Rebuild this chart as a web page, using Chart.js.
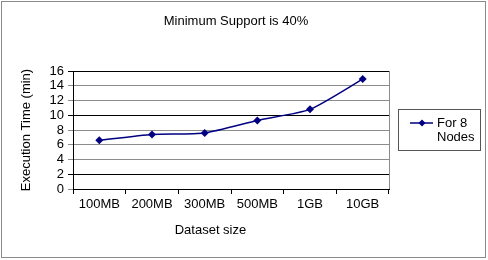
<!DOCTYPE html>
<html><head><meta charset="utf-8">
<script src="https://cdn.jsdelivr.net/npm/chart.js@4/dist/chart.umd.min.js"></script>
<style>html,body{margin:0;padding:0;background:#fff}#wrap{width:488px;height:260px}</style>
</head><body><div id="wrap"><canvas id="c" width="488" height="260"></canvas></div>
<script>
const categories = ["100MB","200MB","300MB","500MB","1GB","10GB"];
const execTime8Nodes = [6.6, 7.4, 7.6, 9.3, 10.8, 14.9];
const seriesLabel = ["For 8", "Nodes"];
const chartTitle = "Minimum Support is 40%";
const xTitle = "Dataset size";
const yTitle = "Execution Time (min)";
const yTicks = [0,2,4,6,8,10,12,14,16];

const FONT = "'Liberation Sans', Arial, sans-serif";
const NAVY = "#000080";

const decor = {
  id: 'decor',
  afterDraw(chart) {
    const ctx = chart.ctx, a = chart.chartArea;
    ctx.save();
    // outer border
    ctx.strokeStyle = '#8a8a8a'; ctx.lineWidth = 1;
    ctx.strokeRect(1.5, 1.5, 484, 256);
    // right border of plot area
    ctx.strokeStyle = '#8c8c8c';
    ctx.beginPath(); ctx.moveTo(Math.round(a.right)+0.5, a.top); ctx.lineTo(Math.round(a.right)+0.5, a.bottom); ctx.stroke();
    // main title
    ctx.fillStyle = '#000'; ctx.font = "13px " + FONT;
    ctx.textAlign = 'center'; ctx.textBaseline = 'middle';
    ctx.fillText(chartTitle, 236, 21);
    // x title
    ctx.fillText(xTitle, a.left + (a.right - a.left) * 0.435, 230);
    // legend box
    const lx = a.right + 9, ly = 109, lw = 82, lh = 41;
    ctx.strokeStyle = '#555';
    ctx.strokeRect(lx + 0.5, ly + 0.5, lw, lh);
    const ds = chart.data.datasets[0];
    ctx.strokeStyle = ds.borderColor; ctx.lineWidth = 1.5;
    ctx.beginPath(); ctx.moveTo(lx + 12, ly + 14); ctx.lineTo(lx + 35, ly + 14); ctx.stroke();
    ctx.fillStyle = ds.backgroundColor;
    const cx = lx + 24, cy = ly + 14, r = 3.5;
    ctx.beginPath(); ctx.moveTo(cx, cy - r); ctx.lineTo(cx + r, cy); ctx.lineTo(cx, cy + r); ctx.lineTo(cx - r, cy); ctx.closePath(); ctx.fill();
    ctx.fillStyle = '#000'; ctx.font = "13px " + FONT; ctx.textAlign = 'left';
    ctx.fillText(seriesLabel[0], lx + 39, ly + 14);
    ctx.fillText(seriesLabel[1], lx + 39, ly + 28);
    ctx.restore();
  }
};

new Chart(document.getElementById('c'), {
  type: 'line',
  data: {
    labels: categories,
    datasets: [{
      label: seriesLabel.join(' '),
      data: execTime8Nodes,
      borderColor: NAVY,
      backgroundColor: NAVY,
      borderWidth: 1.5,
      pointStyle: 'rectRot',
      pointRadius: 4,
      pointBorderWidth: 0,
      tension: 0.2
    }]
  },
  options: {
    responsive: false,
    animation: false,
    devicePixelRatio: 1,
    layout: { padding: { left: 0, right: 99, top: 71, bottom: 0 } },
    plugins: {
      legend: { display: false },
      tooltip: { enabled: false },
      title: { display: false }
    },
    scales: {
      x: {
        offset: true,
        grid: { offset: true, drawOnChartArea: false, drawTicks: true, tickLength: 5, color: '#000' },
        border: { color: '#000' },
        ticks: { color: '#000', font: { family: FONT, size: 13 }, padding: 3, maxRotation: 0, autoSkip: false },
        afterFit: s => { s.height = 71; }
      },
      y: {
        min: 0, max: 16,
        afterBuildTicks: s => { s.ticks = yTicks.map(v => ({ value: v })); },
        grid: {
          tickLength: 5,
          color: c => ([2,10,16].includes(c.tick && c.tick.value) ? '#000' : '#8c8c8c')
        },
        border: { color: '#000' },
        ticks: { color: '#000', font: { family: FONT, size: 13, lineHeight: 1 }, padding: 4, autoSkip: false },
        title: {
          display: true, text: yTitle, color: '#000',
          font: { family: FONT, size: 13 }, padding: { top: 19, bottom: 0 }
        },
        afterFit: s => { s.width = 73; }
      }
    }
  },
  plugins: [decor]
});
</script></body></html>
